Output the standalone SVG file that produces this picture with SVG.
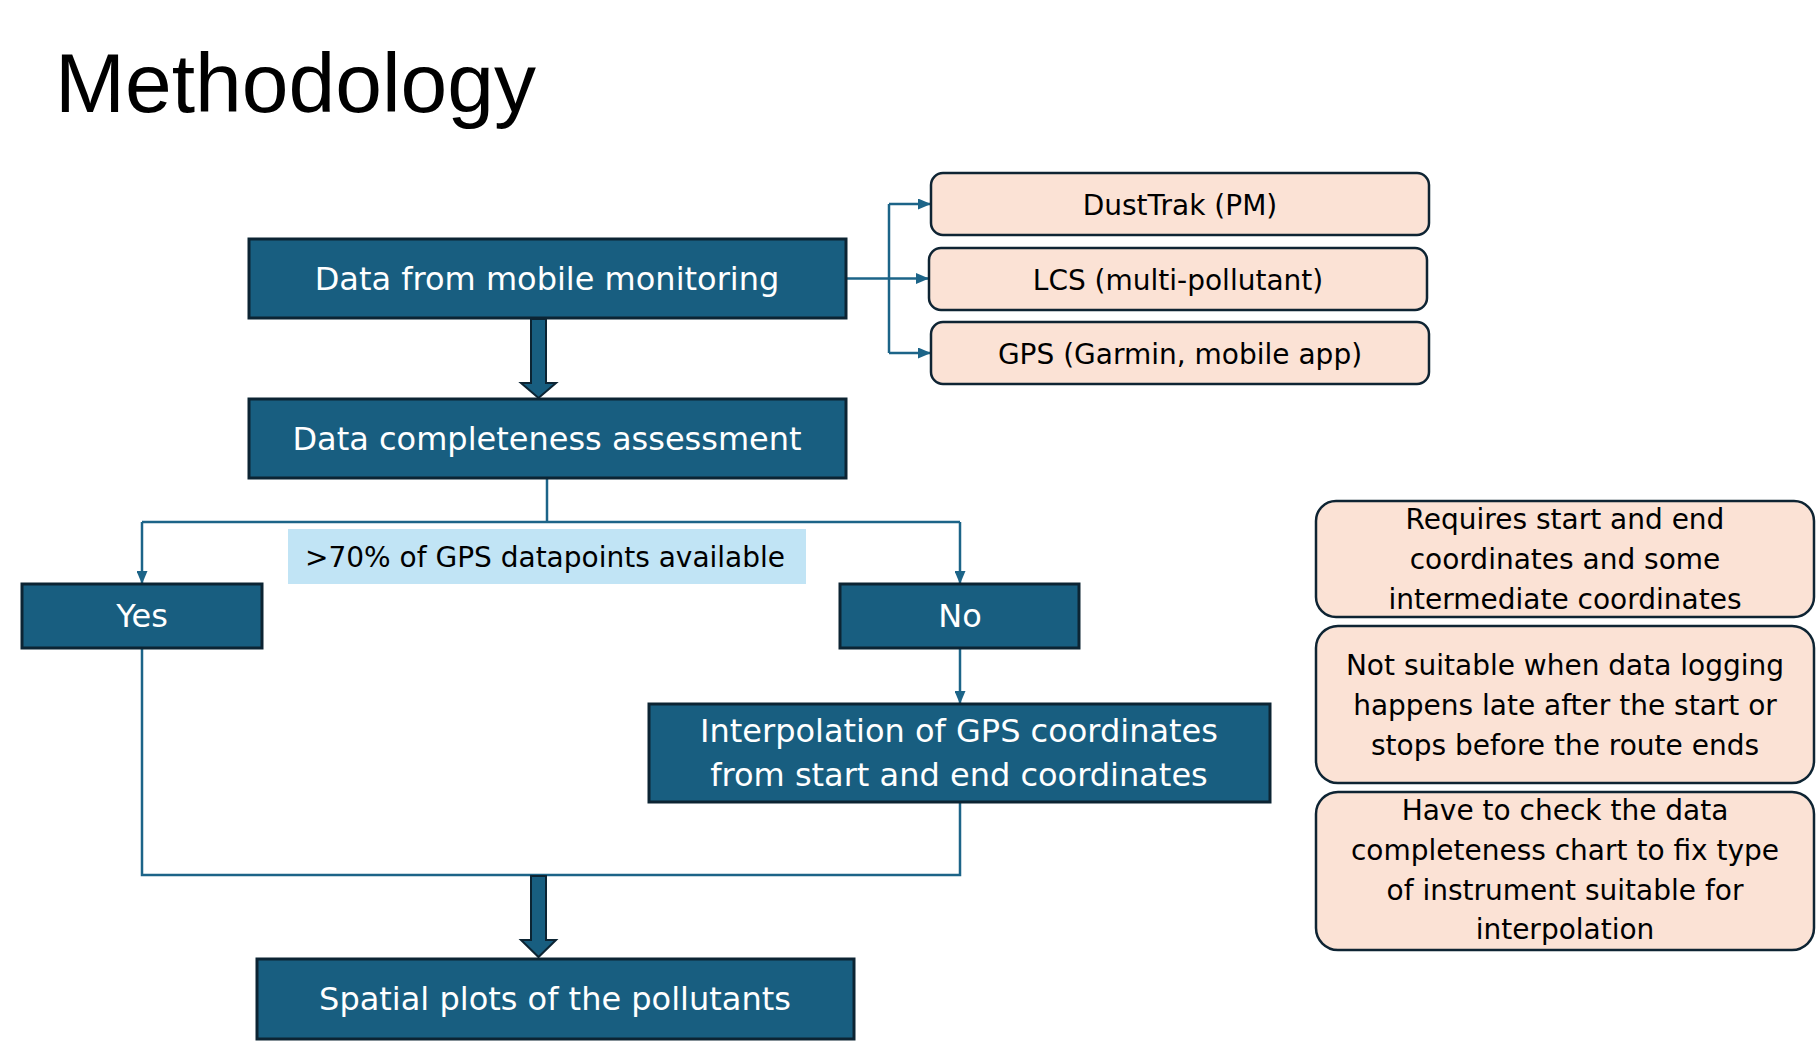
<svg xmlns="http://www.w3.org/2000/svg" width="1816" height="1046" viewBox="0 0 1816 1046">
<style>
.main{fill:#185E80;stroke:#0C2433;stroke-width:3}
.mt{font-family:"DejaVu Sans",sans-serif;font-size:32px;fill:#ffffff;text-anchor:middle}
.peach{fill:#FBE2D5;stroke:#0E2433;stroke-width:2.5}
.pt{font-family:"DejaVu Sans",sans-serif;font-size:28px;fill:#000000;text-anchor:middle}
.con{fill:none;stroke:#1C6488;stroke-width:2.5}
.thick{fill:#185E80;stroke:#0C2433;stroke-width:2}
</style>
<defs>
<marker id="ah" markerUnits="userSpaceOnUse" markerWidth="13" markerHeight="11" refX="12" refY="5.5" orient="auto">
<path d="M0,0 L13,5.5 L0,11 z" fill="#1C6488"/>
</marker>
</defs>
<rect width="1816" height="1046" fill="#ffffff"/>
<text x="55" y="112" font-family="Liberation Sans, Arial, sans-serif" font-size="84" fill="#000000">Methodology</text>

<g id="connectors">
<path class="con" d="M846,278.5 H889"/>
<path class="con" d="M889,204 V353"/>
<path class="con" d="M889,204 H930" marker-end="url(#ah)"/>
<path class="con" d="M889,278.5 H928" marker-end="url(#ah)"/>
<path class="con" d="M889,353 H930" marker-end="url(#ah)"/>
<path class="con" d="M547,478 V522"/>
<path class="con" d="M142,522 H960"/>
<path class="con" d="M142,522 V583" marker-end="url(#ah)"/>
<path class="con" d="M960,522 V583" marker-end="url(#ah)"/>
<path class="con" d="M960,648 V703" marker-end="url(#ah)"/>
<path class="con" d="M142,648 V875 H960 V802"/>
<path class="thick" d="M531,319 V383 H521 L538.5,398 L556,383 H546 V319 z"/>
<path class="thick" d="M531,876 V940 H521 L538.5,957 L556,940 H546 V876 z"/>
</g>

<g id="node-data">
<rect class="main" x="249" y="239" width="597" height="79"/>
<text class="mt" x="547" y="290">Data from mobile monitoring</text>
</g>
<g id="node-dusttrak">
<rect class="peach" x="931" y="173" width="498" height="62" rx="12"/>
<text class="pt" x="1180" y="215">DustTrak (PM)</text>
</g>
<g id="node-lcs">
<rect class="peach" x="929" y="248" width="498" height="62" rx="12"/>
<text class="pt" x="1178" y="290">LCS (multi-pollutant)</text>
</g>
<g id="node-gps">
<rect class="peach" x="931" y="322" width="498" height="62" rx="12"/>
<text class="pt" x="1180" y="364">GPS (Garmin, mobile app)</text>
</g>
<g id="node-completeness">
<rect class="main" x="249" y="399" width="597" height="79"/>
<text class="mt" x="547" y="450">Data completeness assessment</text>
</g>
<g id="label-70">
<rect x="288" y="529" width="518" height="55" fill="#C1E4F5"/>
<text class="pt" x="545" y="567">&gt;70% of GPS datapoints available</text>
</g>
<g id="node-yes">
<rect class="main" x="22" y="584" width="240" height="64"/>
<text class="mt" x="142" y="627">Yes</text>
</g>
<g id="node-no">
<rect class="main" x="840" y="584" width="239" height="64"/>
<text class="mt" x="960" y="627">No</text>
</g>
<g id="node-interp">
<rect class="main" x="649" y="704" width="621" height="98"/>
<text class="mt" x="959" y="742">Interpolation of GPS coordinates</text>
<text class="mt" x="959" y="786">from start and end coordinates</text>
</g>
<g id="node-spatial">
<rect class="main" x="257" y="959" width="597" height="80"/>
<text class="mt" x="555" y="1010">Spatial plots of the pollutants</text>
</g>
<g id="note-1">
<rect class="peach" x="1316" y="501" width="498" height="116" rx="20"/>
<text class="pt" x="1565" y="529">Requires start and end</text>
<text class="pt" x="1565" y="569">coordinates and some</text>
<text class="pt" x="1565" y="609">intermediate coordinates</text>
</g>
<g id="note-2">
<rect class="peach" x="1316" y="626" width="498" height="157" rx="22"/>
<text class="pt" x="1565" y="675">Not suitable when data logging</text>
<text class="pt" x="1565" y="715">happens late after the start or</text>
<text class="pt" x="1565" y="755">stops before the route ends</text>
</g>
<g id="note-3">
<rect class="peach" x="1316" y="792" width="498" height="158" rx="22"/>
<text class="pt" x="1565" y="820">Have to check the data</text>
<text class="pt" x="1565" y="860">completeness chart to fix type</text>
<text class="pt" x="1565" y="900">of instrument suitable for</text>
<text class="pt" x="1565" y="939">interpolation</text>
</g>
</svg>
